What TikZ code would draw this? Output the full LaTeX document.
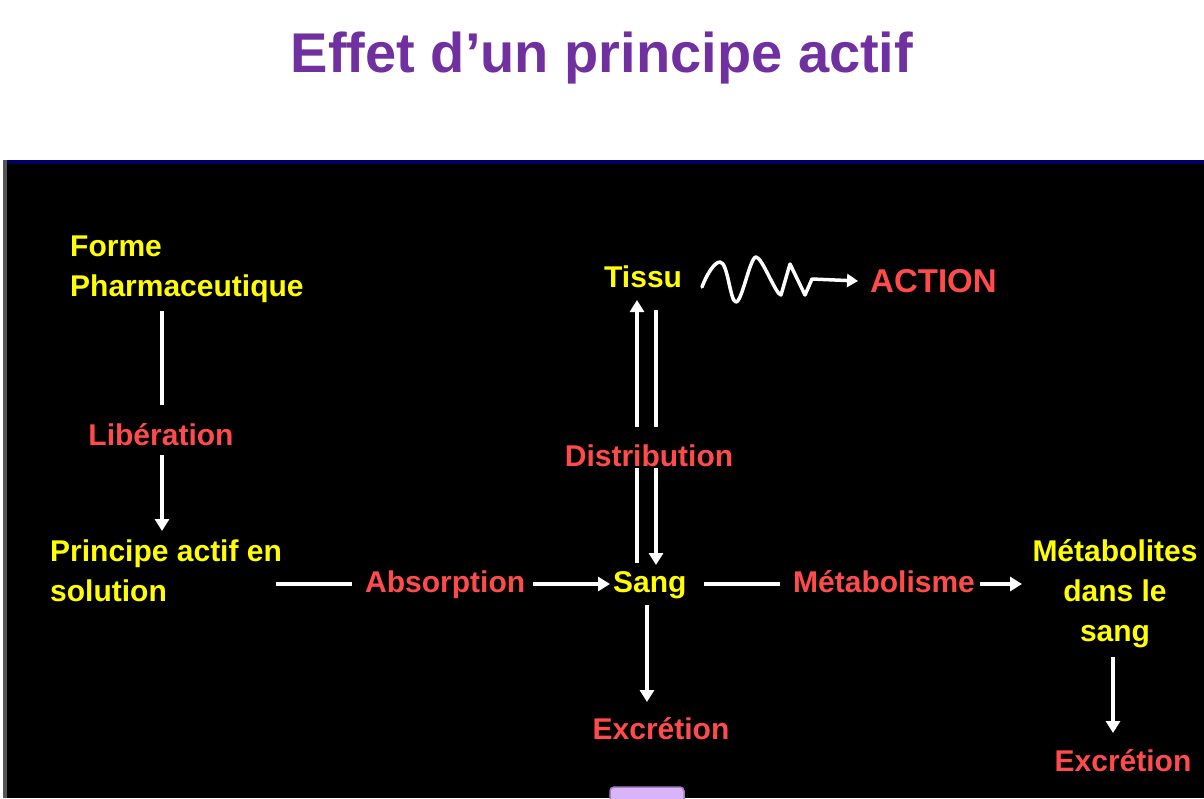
\documentclass[tikz,border=0pt]{standalone}
\usepackage{fontspec}
\setmainfont{Liberation Sans}
\usetikzlibrary{arrows.meta}
\definecolor{ttl}{RGB}{112,48,160}
\definecolor{yel}{RGB}{255,255,0}
\definecolor{rd}{RGB}{255,75,75}
\definecolor{navy}{RGB}{0,0,100}
\definecolor{edge}{RGB}{85,85,85}
\definecolor{lav}{RGB}{216,180,248}
\definecolor{lavb}{RGB}{160,128,192}
\begin{document}
\begin{tikzpicture}[x=1pt,y=-1pt,
  ytxt/.style={text=yel,font=\bfseries\fontsize{30}{40}\selectfont,inner sep=0pt},
  rtxt/.style={text=rd,font=\bfseries\fontsize{30}{40}\selectfont,inner sep=0pt},
  wline/.style={draw=white,line width=4pt},
  warrow/.style={draw=white,line width=4pt,-{Triangle[width=14pt,length=12pt]}}]
\useasboundingbox (0,0) rectangle (1204,798);
\fill[white] (0,0) rectangle (1204,798);
% title
\node[text=ttl,font=\bfseries\fontsize{56}{60}\selectfont,anchor=base,inner sep=0pt] (title) at (602,72) {Effet d’un principe actif};
% black panel
\fill[black] (3,160) rectangle (1204,798);
\fill[navy] (3,160) rectangle (1204,164);
\fill[edge] (3,160) rectangle (7,798);
% nodes
\node[ytxt,anchor=base west] (forme) at (70,256) {Forme};
\node[ytxt,anchor=base west] (pharma) at (70,296) {Pharmaceutique};
\node[rtxt,anchor=base] (lib) at (161,445) {Libération};
\node[ytxt,anchor=base west] (pa1) at (50,561) {Principe actif en};
\node[ytxt,anchor=base west] (pa2) at (50,601) {solution};
\node[rtxt,anchor=base west] (abs) at (365,592) {Absorption};
\node[ytxt,anchor=base west] (sang) at (613,592) {Sang};
\node[ytxt,anchor=base west] (tissu) at (604,287) {Tissu};
\node[rtxt,anchor=base west,font=\bfseries\fontsize{33}{40}\selectfont] (action) at (870,292) {ACTION};
\node[rtxt,anchor=base] (distr) at (649,466) {Distribution};
\node[rtxt,anchor=base] (excr1) at (661,739) {Excrétion};
\node[rtxt,anchor=base west] (metab) at (793,592) {Métabolisme};
\node[ytxt,anchor=base] (m1) at (1115,561) {Métabolites};
\node[ytxt,anchor=base] (m2) at (1115,601) {dans le};
\node[ytxt,anchor=base] (m3) at (1115,641) {sang};
\node[rtxt,anchor=base] (excr2) at (1123,771) {Excrétion};
% coordinates
\coordinate (a1) at (162,311); \coordinate (a2) at (162,405);
\coordinate (b1) at (162,455); \coordinate (b2) at (162,531);
\coordinate (c1) at (276,584); \coordinate (c2) at (352,584);
\coordinate (d1) at (533,584); \coordinate (d2) at (610,584);
\coordinate (e1) at (637,563); \coordinate (e2) at (637,468);
\coordinate (e3) at (637,427); \coordinate (e4) at (637,300);
\coordinate (f1) at (656,310); \coordinate (f2) at (656,427);
\coordinate (f3) at (656,468); \coordinate (f4) at (656,565);
\coordinate (g1) at (647,605); \coordinate (g2) at (647,702);
\coordinate (h1) at (704,584); \coordinate (h2) at (780,584);
\coordinate (i1) at (980,584); \coordinate (i2) at (1022,584);
\coordinate (j1) at (1113,657); \coordinate (j2) at (1113,733);
\coordinate (s0) at (702,287); \coordinate (s9) at (858,281);
% connectors
\draw[wline] (a1) -- (a2);
\draw[warrow] (b1) -- (b2);
\draw[wline] (c1) -- (c2);
\draw[warrow] (d1) -- (d2);
\draw[wline] (e1) -- (e2);
\draw[warrow] (e3) -- (e4);
\draw[wline] (f1) -- (f2);
\draw[warrow] (f3) -- (f4);
\draw[warrow] (g1) -- (g2);
\draw[wline] (h1) -- (h2);
\draw[warrow] (i1) -- (i2);
\draw[warrow] (j1) -- (j2);
% squiggle
\draw[white,line width=3.5pt,line join=round,line cap=round,-{Triangle[width=13pt,length=11pt]}]
  (s0) .. controls (706,276) and (714,262) .. (720,262)
  .. controls (728,262) and (730,302) .. (736,302)
  .. controls (742,302) and (750,257) .. (756,257)
  .. controls (762,257) and (776,295) .. (781,295)
  -- (790,264) -- (805,295) -- (812,279) -- (s9);
% small lavender box
\draw[lavb,fill=lav,line width=1.5pt,rounded corners=4pt] (610,787) rectangle (684,810);
\end{tikzpicture}
\end{document}
